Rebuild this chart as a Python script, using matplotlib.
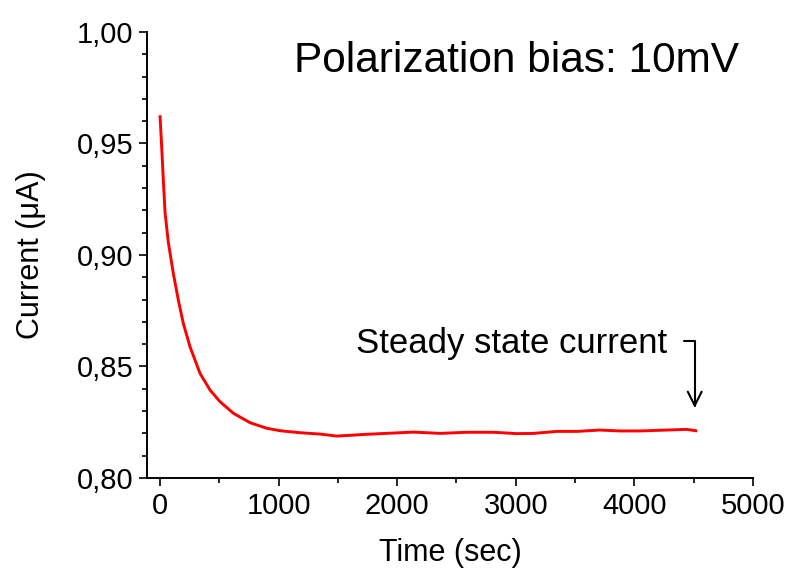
import matplotlib.pyplot as plt

plt.rcParams['font.family'] = ['Liberation Sans', 'DejaVu Sans']

# time (sec) and current (uA)
time_s = [0, 14, 28, 42, 70, 112, 154, 196, 253, 337, 422, 506, 619, 759,
          900, 1012, 1180, 1349, 1490, 1743, 2024, 2136, 2361, 2586, 2811,
          3010, 3150, 3347, 3516, 3710, 3879, 4047, 4272, 4441, 4519]
current_uA = [0.962, 0.948, 0.933, 0.919, 0.9055, 0.8917, 0.8798, 0.8693,
              0.8588, 0.8469, 0.8394, 0.8342, 0.8290, 0.8248, 0.8223, 0.8212,
              0.8203, 0.8197, 0.8188, 0.8196, 0.8203, 0.8206, 0.8200, 0.8205,
              0.8205, 0.8199, 0.8200, 0.8209, 0.8209, 0.8215, 0.8211, 0.8211,
              0.8215, 0.8218, 0.8212]

x_ticks = [0, 1000, 2000, 3000, 4000, 5000]
y_ticks = [0.80, 0.85, 0.90, 0.95, 1.00]
y_tick_labels = ["0,80", "0,85", "0,90", "0,95", "1,00"]

fig = plt.figure(figsize=(7.85, 5.70), dpi=100)
ax = fig.add_axes([0.1873, 0.1614, 0.7717, 0.7825])

ax.plot(time_s, current_uA, color="red", lw=2.1)

ax.set_xlim(-110, 5000)
ax.set_ylim(0.80, 1.00)
ax.set_xticks(x_ticks)
ax.set_xticks(range(500, 5000, 1000), minor=True)
ax.set_yticks(y_ticks)
ax.set_yticklabels(y_tick_labels)
ax.set_yticks([0.81, 0.82, 0.83, 0.84, 0.86, 0.87, 0.88, 0.89,
               0.91, 0.92, 0.93, 0.94, 0.96, 0.97, 0.98, 0.99], minor=True)

ax.spines["top"].set_visible(False)
ax.spines["right"].set_visible(False)
for s in ("left", "bottom"):
    ax.spines[s].set_linewidth(1.4)
ax.tick_params(which="major", direction="out", length=6, width=1.2, labelsize=21, pad=4)
ax.tick_params(which="minor", direction="out", length=3.5, width=1.2)

ax.set_xlabel("Time (sec)", fontsize=22, labelpad=13)
ax.set_ylabel("Current (μA)", fontsize=22, labelpad=22)

ax.text(0.242, 0.935, "Polarization bias: 10mV", transform=ax.transAxes,
        fontsize=30.5, ha="left", va="center")
ax.text(4275, 0.8604, "Steady state current", fontsize=25, ha="right", va="center")
ax.annotate("", xy=(4510, 0.8302), xytext=(4400, 0.8615),
            arrowprops=dict(arrowstyle="->,head_length=0.5,head_width=0.25",
                            lw=1.5, color="black", mutation_scale=20,
                            connectionstyle="angle,angleA=0,angleB=90,rad=0"))

fig.savefig("out.png", dpi=100)
